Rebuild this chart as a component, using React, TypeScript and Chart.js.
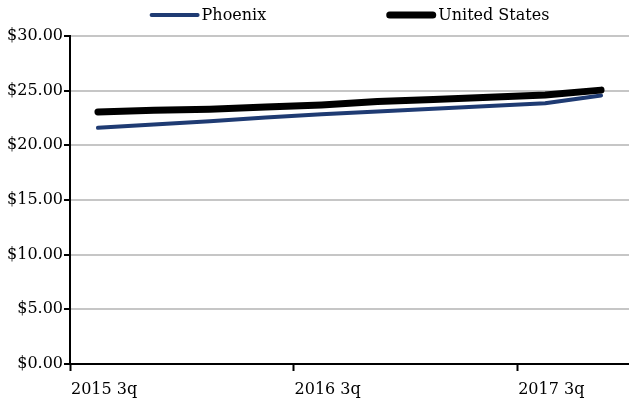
import { useEffect, useRef } from 'react';
import { Chart, registerables } from 'chart.js';

Chart.register(...registerables);

const quarters = [
  '2015 3q', '2015 4q', '2016 1q', '2016 2q', '2016 3q',
  '2016 4q', '2017 1q', '2017 2q', '2017 3q', '2017 4q',
];
const phoenixWage = [21.6, 21.9, 22.2, 22.55, 22.85, 23.1, 23.35, 23.6, 23.85, 24.55];
const usWage = [23.05, 23.2, 23.3, 23.5, 23.7, 24.0, 24.2, 24.4, 24.6, 25.05];

const FONT_FAMILY = '"DejaVu Serif", serif';
const FONT_SIZE = 16;

// Legend with line samples, centred over the plot area.
const lineLegend = {
  id: 'lineLegend',
  afterDraw(chart: any) {
    const { ctx, chartArea } = chart;
    const sample = 50;
    const gap = 2;
    const spacing = 120;
    const y = 15;
    ctx.save();
    ctx.font = `${FONT_SIZE}px ${FONT_FAMILY}`;
    ctx.textBaseline = 'middle';
    ctx.textAlign = 'left';
    const items = chart.data.datasets.map((ds: any) => ({
      label: ds.label,
      color: ds.borderColor,
      width: ds.borderWidth,
      tw: ctx.measureText(ds.label).width,
    }));
    const total =
      items.reduce((s: number, it: any) => s + sample + gap + it.tw, 0) +
      spacing * (items.length - 1);
    let x = (chartArea.left + chartArea.right) / 2 - total / 2;
    for (const it of items) {
      ctx.strokeStyle = it.color;
      ctx.lineWidth = it.width;
      ctx.lineCap = 'round';
      ctx.beginPath();
      ctx.moveTo(x + it.width / 2, y);
      ctx.lineTo(x + sample - it.width / 2, y);
      ctx.stroke();
      ctx.fillStyle = '#000';
      ctx.fillText(it.label, x + sample + gap, y + 1);
      x += sample + gap + it.tw + spacing;
    }
    ctx.restore();
  },
};

export default function App() {
  const canvasRef = useRef<HTMLCanvasElement | null>(null);

  useEffect(() => {
    document.body.style.margin = '0';
    const canvas = canvasRef.current;
    if (!canvas) return;
    const font = { family: FONT_FAMILY, size: FONT_SIZE };

    const chart = new Chart(canvas, {
      type: 'line',
      data: {
        labels: quarters,
        datasets: [
          {
            label: 'Phoenix',
            data: phoenixWage,
            borderColor: '#1f3b73',
            backgroundColor: '#1f3b73',
            borderWidth: 4,
            borderCapStyle: 'round',
            borderJoinStyle: 'round',
            pointRadius: 0,
            tension: 0,
            order: 2,
          },
          {
            label: 'United States',
            data: usWage,
            borderColor: '#000000',
            backgroundColor: '#000000',
            borderWidth: 7,
            borderCapStyle: 'round',
            borderJoinStyle: 'round',
            pointRadius: 0,
            tension: 0,
            order: 1,
          },
        ],
      },
      options: {
        responsive: false,
        animation: false,
        layout: { padding: { top: 36, right: 0, left: 0, bottom: 0 } },
        plugins: {
          legend: { display: false },
          tooltip: { enabled: false },
        },
        scales: {
          x: {
            type: 'category',
            offset: true,
            grid: {
              offset: true,
              drawOnChartArea: false,
              drawTicks: true,
              tickLength: 7,
              tickWidth: 2,
              tickColor: (c: any) =>
                typeof c.index === 'number' && c.index % 4 === 0 ? '#000' : 'rgba(0,0,0,0)',
            },
            border: { color: '#000', width: 2 },
            ticks: {
              autoSkip: false,
              maxRotation: 0,
              minRotation: 0,
              align: 'start',
              labelOffset: -27,
              padding: 9,
              color: '#000',
              font,
              callback: (_v: any, i: number) => (i % 4 === 0 ? quarters[i] : ''),
            },
            afterFit: (s: any) => {
              s.height = 34;
            },
          },
          y: {
            min: 0,
            max: 30,
            ticks: {
              stepSize: 5,
              padding: 1,
              color: '#000',
              font,
              callback: (v: any) => '$' + Number(v).toFixed(2),
            },
            grid: {
              color: '#c6c6c6',
              lineWidth: 2,
              tickColor: '#000',
              tickLength: 6,
              tickWidth: 2,
            },
            border: { color: '#000', width: 2 },
            afterFit: (s: any) => {
              s.width = 70;
            },
          },
        },
      },
      plugins: [lineLegend],
    } as any);

    return () => chart.destroy();
  }, []);

  return (
    <div style={{ width: 629, height: 398 }}>
      <canvas ref={canvasRef} width={629} height={398} />
    </div>
  );
}
